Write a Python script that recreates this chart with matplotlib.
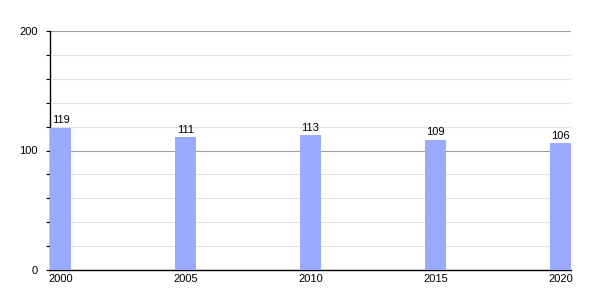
import matplotlib
matplotlib.use("Agg")
import matplotlib.pyplot as plt
from matplotlib.ticker import MultipleLocator

years = [2000, 2005, 2010, 2015, 2020]
values = [119, 111, 113, 109, 106]
year_labels = ["2000", "2005", "2010", "2015", "2020"]

plt.rcParams['font.family'] = ['Liberation Sans', 'DejaVu Sans']

fig = plt.figure(figsize=(6, 3), dpi=100)
ax = fig.add_axes([50/600, 1 - 270/300, 521/600, 239/300])

w = 0.84
ax.bar(years, values, width=w, color="#99aaff", zorder=3)
for x, v in zip(years, values):
    ax.text(x, v + 2, str(v), ha="center", va="bottom", fontsize=8, color="black", zorder=4)

ax.set_xlim(2000 - w/2, 2020 + w/2)
ax.set_ylim(0, 200)
ax.set_xticks(years)
ax.set_xticklabels(year_labels, fontsize=8)
ax.set_yticks([0, 100, 200])
ax.set_yticklabels(["0", "100", "200"], fontsize=8)
ax.yaxis.set_minor_locator(MultipleLocator(20))
ax.tick_params(axis="x", length=0, pad=3)
ax.tick_params(axis="y", which="major", length=3, width=0.8, pad=6)
ax.tick_params(axis="y", which="minor", length=3, width=0.8)

ax.grid(axis="y", which="major", color="#a0a0a0", linewidth=0.8, zorder=1)
ax.grid(axis="y", which="minor", color="#e0e0e0", linewidth=0.8, zorder=1)
ax.set_axisbelow(True)

for s in ["top", "right"]:
    ax.spines[s].set_visible(False)
ax.spines["left"].set_color("black")
ax.spines["bottom"].set_color("black")
ax.spines["left"].set_linewidth(1)
ax.spines["bottom"].set_linewidth(1)

fig.savefig("out.png", dpi=100)
